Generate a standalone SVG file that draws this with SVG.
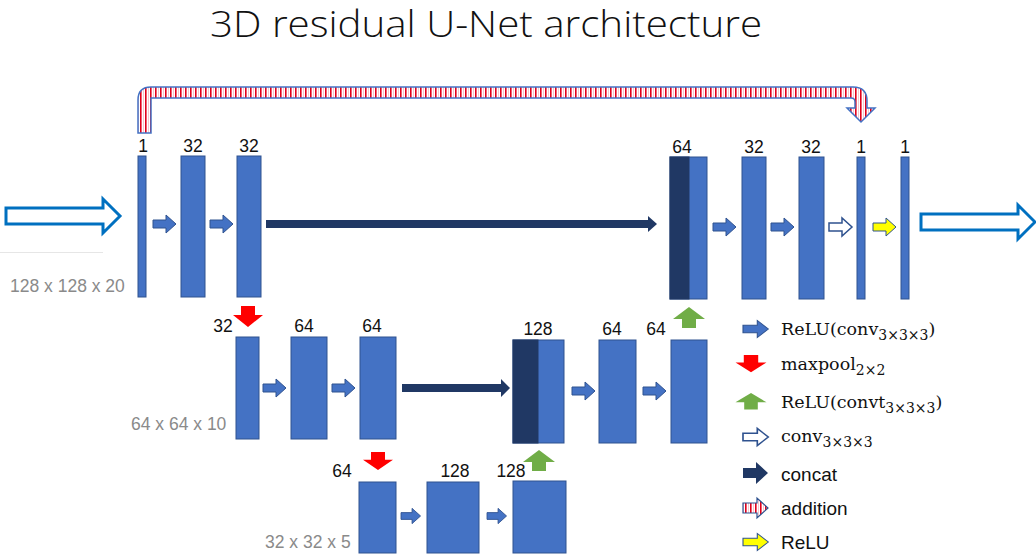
<svg xmlns="http://www.w3.org/2000/svg" width="1036" height="557" viewBox="0 0 1036 557">
<style>
.blk{fill:#4472C4;stroke:#2F528F;stroke-width:1}
.dk{fill:#203864;stroke:#203864;stroke-width:1}
.ar{fill:#4472C4;stroke:#2F528F;stroke-width:1}
.hol{fill:#ffffff;stroke:#2F528F;stroke-width:1.5}
.yel{fill:#FFFF00;stroke:#2F528F;stroke-width:1}
.cat{fill:#203864}
.red{fill:#FF0000}
.grn{fill:#70AD47}
.io{fill:#ffffff;stroke:#0070C0;stroke-width:3}
.num{font-family:"Liberation Sans",Arial,sans-serif;font-size:17.5px;fill:#111;text-anchor:middle}
.dim{font-family:"Liberation Sans",Arial,sans-serif;font-size:17.5px;fill:#8a8a8a}
.lg{font-family:"DejaVu Serif","Liberation Serif",serif;font-size:17.5px;fill:#111}
.sub{font-size:14px}
.lgs{font-family:"Liberation Sans",Arial,sans-serif;font-size:19px;fill:#111}
.title{font-family:"Open Sans","Liberation Sans",sans-serif;font-weight:300;font-size:36px;fill:#111}
</style>
<defs>
<pattern id="stripe" patternUnits="userSpaceOnUse" width="5" height="10">
<rect width="5" height="10" fill="#ffffff"/>
<rect x="0" width="1.6" height="10" fill="#E0001B"/>
<rect x="3" width="0.8" height="10" fill="#F4B8C0"/>
</pattern>
<path id="ra" d="M0,-4 H13 V-9 L23,0 L13,9 V4 H0 Z"/>
<path id="dn" d="M-7,0 H7 V9 H15 L0,21 L-15,9 H-7 Z"/>
<path id="up" d="M0,0 L16,12 H7 V21 H-7 V12 H-16 Z"/>
</defs>

<text class="title" x="210" y="37" textLength="552" lengthAdjust="spacingAndGlyphs">3D residual U-Net architecture</text>

<!-- connectors -->
<g id="connectors">
<path class="io" d="M6,208 H103 V199 L120,216 L103,233 V224 H6 Z"/>
<line x1="0" y1="252.5" x2="103" y2="252.5" stroke="#e6e6e6" stroke-width="1"/>
<path class="io" d="M921,214 H1018 V205 L1035,222 L1018,239 V230 H921 Z"/>
<path d="M138,133 V100 Q138,87 151,87 H853 Q867,87 867,101 V108 H875 L861,122 L847,108 H855 V102 Q855,98 851,98 H151 V133 Z" fill="url(#stripe)" stroke="#4472C4" stroke-width="1.5"/>
<use href="#ra" class="ar" transform="translate(153,224)"/>
<use href="#ra" class="ar" transform="translate(210,224)"/>
<path class="cat" d="M266,220 H648 V216 L657,224 L648,232 V228 H266 Z"/>
<use href="#ra" class="ar" transform="translate(713,227)"/>
<use href="#ra" class="ar" transform="translate(771,227)"/>
<use href="#ra" class="hol" transform="translate(829,227)"/>
<use href="#ra" class="yel" transform="translate(873,227)"/>
<use href="#dn" class="red" transform="translate(248,306)"/>
<use href="#ra" class="ar" transform="translate(263,388)"/>
<use href="#ra" class="ar" transform="translate(332,388)"/>
<path class="cat" d="M402,384 H501 V379 L510,388 L501,397 V392 H402 Z"/>
<use href="#ra" class="ar" transform="translate(572,391)"/>
<use href="#ra" class="ar" transform="translate(643,391)"/>
<use href="#up" class="grn" transform="translate(689,307)"/>
<use href="#dn" class="red" transform="translate(378,452) scale(1,0.86)"/>
<use href="#ra" class="ar" transform="translate(401,516) scale(0.85)"/>
<use href="#ra" class="ar" transform="translate(487,516) scale(0.85)"/>
<use href="#up" class="grn" transform="translate(539,450)"/>
</g>

<!-- top row -->
<g id="n_in1"><rect class="blk" x="138" y="156" width="8" height="141"/><text class="num" x="143" y="152">1</text></g>
<g id="n_e1a"><rect class="blk" x="181" y="156" width="24" height="141"/><text class="num" x="193" y="152">32</text></g>
<g id="n_e1b"><rect class="blk" x="237" y="156" width="24" height="141"/><text class="num" x="249" y="152">32</text></g>
<g id="n_d1cat"><rect class="blk" x="670" y="157" width="37" height="142"/><rect class="dk" x="670" y="157" width="19" height="142"/><text class="num" x="682" y="153">64</text></g>
<g id="n_d1a"><rect class="blk" x="742" y="157" width="24" height="142"/><text class="num" x="754" y="153">32</text></g>
<g id="n_d1b"><rect class="blk" x="799" y="157" width="25" height="142"/><text class="num" x="811" y="153">32</text></g>
<g id="n_out1"><rect class="blk" x="857" y="157" width="8" height="142"/><text class="num" x="861" y="153">1</text></g>
<g id="n_out2"><rect class="blk" x="901" y="157" width="8" height="142"/><text class="num" x="905" y="153">1</text></g>
<text class="dim" x="10" y="292">128 x 128 x 20</text>

<!-- middle row -->
<g id="n_e2a"><rect class="blk" x="236" y="337" width="23" height="102"/><text class="num" x="223" y="332">32</text></g>
<g id="n_e2b"><rect class="blk" x="291" y="337" width="36" height="102"/><text class="num" x="304" y="332">64</text></g>
<g id="n_e2c"><rect class="blk" x="360" y="337" width="36" height="102"/><text class="num" x="372" y="332">64</text></g>
<g id="n_d2cat"><rect class="blk" x="513" y="340" width="51" height="103"/><rect class="dk" x="513" y="340" width="25" height="103"/><text class="num" x="538" y="335">128</text></g>
<g id="n_d2a"><rect class="blk" x="599" y="340" width="37" height="103"/><text class="num" x="612" y="335">64</text></g>
<g id="n_d2b"><rect class="blk" x="671" y="340" width="36" height="103"/><text class="num" x="656" y="335">64</text></g>
<text class="dim" x="131" y="430">64 x 64 x 10</text>

<!-- bottom row -->
<g id="n_b1"><rect class="blk" x="359" y="482" width="37" height="71"/><text class="num" x="342" y="477">64</text></g>
<g id="n_b2"><rect class="blk" x="427" y="482" width="52" height="71"/><text class="num" x="455" y="477">128</text></g>
<g id="n_b3"><rect class="blk" x="513" y="481" width="53" height="72"/><text class="num" x="511" y="477">128</text></g>
<text class="dim" x="265" y="548">32 x 32 x 5</text>

<!-- legend -->
<g id="legend">
<use href="#ra" class="ar" transform="translate(743,329) scale(1.1,0.95)"/>
<text class="lg" x="781" y="335">ReLU(conv<tspan class="sub" dy="5">3×3×3</tspan><tspan dy="-5">)</tspan></text>
<use href="#dn" class="red" transform="translate(751,355) scale(1.03,0.82)"/>
<text class="lg" x="781" y="370">maxpool<tspan class="sub" dy="5">2×2</tspan></text>
<use href="#up" class="grn" transform="translate(751,393) scale(0.97,0.78)"/>
<text class="lg" x="781" y="408">ReLU(convt<tspan class="sub" dy="5">3×3×3</tspan><tspan dy="-5">)</tspan></text>
<use href="#ra" class="hol" transform="translate(743,437) scale(1.1,0.95)"/>
<text class="lg" x="781" y="442">conv<tspan class="sub" dy="5">3×3×3</tspan></text>
<path class="cat" d="M743,468 H756 V462 L768,473 L756,484 V478 H743 Z"/>
<text class="lgs" x="781" y="481">concat</text>
<path d="M743,503 H757 V498 L768,508 L757,518 V513 H743 Z" fill="url(#stripe)" stroke="#2F528F" stroke-width="1.2"/>
<text class="lgs" x="781" y="515">addition</text>
<use href="#ra" class="yel" transform="translate(743,542) scale(1.1,0.95)"/>
<text class="lgs" x="781" y="549">ReLU</text>
</g>
</svg>
